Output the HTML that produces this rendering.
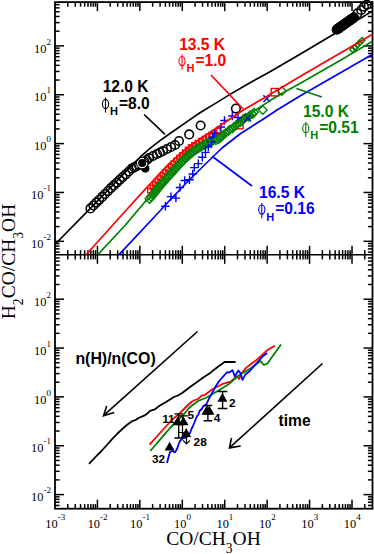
<!DOCTYPE html>
<html><head><meta charset="utf-8"><title>plot</title>
<style>
html,body{margin:0;padding:0;background:#fff;}
body{width:374px;height:554px;overflow:hidden;font-family:"Liberation Sans",sans-serif;}
svg{display:block;}
</style></head><body>
<svg width="374" height="554" viewBox="0 0 374 554">
<rect width="374" height="554" fill="#fff"/>
<g stroke="#000" stroke-width="1.5" fill="none" stroke-linecap="butt">
<rect x="55.0" y="2.1" width="317.5" height="506.59999999999997" stroke-width="1.8"/>
<line x1="55.0" y1="254.8" x2="372.5" y2="254.8"/>
<line x1="67.77" y1="2.1" x2="67.77" y2="6.699999999999999"/>
<line x1="67.77" y1="250.20000000000002" x2="67.77" y2="259.40000000000003"/>
<line x1="67.77" y1="508.7" x2="67.77" y2="504.09999999999997"/>
<line x1="75.24" y1="2.1" x2="75.24" y2="6.699999999999999"/>
<line x1="75.24" y1="250.20000000000002" x2="75.24" y2="259.40000000000003"/>
<line x1="75.24" y1="508.7" x2="75.24" y2="504.09999999999997"/>
<line x1="80.55" y1="2.1" x2="80.55" y2="6.699999999999999"/>
<line x1="80.55" y1="250.20000000000002" x2="80.55" y2="259.40000000000003"/>
<line x1="80.55" y1="508.7" x2="80.55" y2="504.09999999999997"/>
<line x1="84.66" y1="2.1" x2="84.66" y2="6.699999999999999"/>
<line x1="84.66" y1="250.20000000000002" x2="84.66" y2="259.40000000000003"/>
<line x1="84.66" y1="508.7" x2="84.66" y2="504.09999999999997"/>
<line x1="88.02" y1="2.1" x2="88.02" y2="6.699999999999999"/>
<line x1="88.02" y1="250.20000000000002" x2="88.02" y2="259.40000000000003"/>
<line x1="88.02" y1="508.7" x2="88.02" y2="504.09999999999997"/>
<line x1="90.86" y1="2.1" x2="90.86" y2="6.699999999999999"/>
<line x1="90.86" y1="250.20000000000002" x2="90.86" y2="259.40000000000003"/>
<line x1="90.86" y1="508.7" x2="90.86" y2="504.09999999999997"/>
<line x1="93.32" y1="2.1" x2="93.32" y2="6.699999999999999"/>
<line x1="93.32" y1="250.20000000000002" x2="93.32" y2="259.40000000000003"/>
<line x1="93.32" y1="508.7" x2="93.32" y2="504.09999999999997"/>
<line x1="95.49" y1="2.1" x2="95.49" y2="6.699999999999999"/>
<line x1="95.49" y1="250.20000000000002" x2="95.49" y2="259.40000000000003"/>
<line x1="95.49" y1="508.7" x2="95.49" y2="504.09999999999997"/>
<line x1="97.43" y1="2.1" x2="97.43" y2="11.1"/>
<line x1="97.43" y1="245.8" x2="97.43" y2="263.8"/>
<line x1="97.43" y1="508.7" x2="97.43" y2="499.7"/>
<line x1="110.20" y1="2.1" x2="110.20" y2="6.699999999999999"/>
<line x1="110.20" y1="250.20000000000002" x2="110.20" y2="259.40000000000003"/>
<line x1="110.20" y1="508.7" x2="110.20" y2="504.09999999999997"/>
<line x1="117.67" y1="2.1" x2="117.67" y2="6.699999999999999"/>
<line x1="117.67" y1="250.20000000000002" x2="117.67" y2="259.40000000000003"/>
<line x1="117.67" y1="508.7" x2="117.67" y2="504.09999999999997"/>
<line x1="122.98" y1="2.1" x2="122.98" y2="6.699999999999999"/>
<line x1="122.98" y1="250.20000000000002" x2="122.98" y2="259.40000000000003"/>
<line x1="122.98" y1="508.7" x2="122.98" y2="504.09999999999997"/>
<line x1="127.09" y1="2.1" x2="127.09" y2="6.699999999999999"/>
<line x1="127.09" y1="250.20000000000002" x2="127.09" y2="259.40000000000003"/>
<line x1="127.09" y1="508.7" x2="127.09" y2="504.09999999999997"/>
<line x1="130.45" y1="2.1" x2="130.45" y2="6.699999999999999"/>
<line x1="130.45" y1="250.20000000000002" x2="130.45" y2="259.40000000000003"/>
<line x1="130.45" y1="508.7" x2="130.45" y2="504.09999999999997"/>
<line x1="133.29" y1="2.1" x2="133.29" y2="6.699999999999999"/>
<line x1="133.29" y1="250.20000000000002" x2="133.29" y2="259.40000000000003"/>
<line x1="133.29" y1="508.7" x2="133.29" y2="504.09999999999997"/>
<line x1="135.75" y1="2.1" x2="135.75" y2="6.699999999999999"/>
<line x1="135.75" y1="250.20000000000002" x2="135.75" y2="259.40000000000003"/>
<line x1="135.75" y1="508.7" x2="135.75" y2="504.09999999999997"/>
<line x1="137.92" y1="2.1" x2="137.92" y2="6.699999999999999"/>
<line x1="137.92" y1="250.20000000000002" x2="137.92" y2="259.40000000000003"/>
<line x1="137.92" y1="508.7" x2="137.92" y2="504.09999999999997"/>
<line x1="139.86" y1="2.1" x2="139.86" y2="11.1"/>
<line x1="139.86" y1="245.8" x2="139.86" y2="263.8"/>
<line x1="139.86" y1="508.7" x2="139.86" y2="499.7"/>
<line x1="152.63" y1="2.1" x2="152.63" y2="6.699999999999999"/>
<line x1="152.63" y1="250.20000000000002" x2="152.63" y2="259.40000000000003"/>
<line x1="152.63" y1="508.7" x2="152.63" y2="504.09999999999997"/>
<line x1="160.10" y1="2.1" x2="160.10" y2="6.699999999999999"/>
<line x1="160.10" y1="250.20000000000002" x2="160.10" y2="259.40000000000003"/>
<line x1="160.10" y1="508.7" x2="160.10" y2="504.09999999999997"/>
<line x1="165.41" y1="2.1" x2="165.41" y2="6.699999999999999"/>
<line x1="165.41" y1="250.20000000000002" x2="165.41" y2="259.40000000000003"/>
<line x1="165.41" y1="508.7" x2="165.41" y2="504.09999999999997"/>
<line x1="169.52" y1="2.1" x2="169.52" y2="6.699999999999999"/>
<line x1="169.52" y1="250.20000000000002" x2="169.52" y2="259.40000000000003"/>
<line x1="169.52" y1="508.7" x2="169.52" y2="504.09999999999997"/>
<line x1="172.88" y1="2.1" x2="172.88" y2="6.699999999999999"/>
<line x1="172.88" y1="250.20000000000002" x2="172.88" y2="259.40000000000003"/>
<line x1="172.88" y1="508.7" x2="172.88" y2="504.09999999999997"/>
<line x1="175.72" y1="2.1" x2="175.72" y2="6.699999999999999"/>
<line x1="175.72" y1="250.20000000000002" x2="175.72" y2="259.40000000000003"/>
<line x1="175.72" y1="508.7" x2="175.72" y2="504.09999999999997"/>
<line x1="178.18" y1="2.1" x2="178.18" y2="6.699999999999999"/>
<line x1="178.18" y1="250.20000000000002" x2="178.18" y2="259.40000000000003"/>
<line x1="178.18" y1="508.7" x2="178.18" y2="504.09999999999997"/>
<line x1="180.35" y1="2.1" x2="180.35" y2="6.699999999999999"/>
<line x1="180.35" y1="250.20000000000002" x2="180.35" y2="259.40000000000003"/>
<line x1="180.35" y1="508.7" x2="180.35" y2="504.09999999999997"/>
<line x1="182.29" y1="2.1" x2="182.29" y2="11.1"/>
<line x1="182.29" y1="245.8" x2="182.29" y2="263.8"/>
<line x1="182.29" y1="508.7" x2="182.29" y2="499.7"/>
<line x1="195.06" y1="2.1" x2="195.06" y2="6.699999999999999"/>
<line x1="195.06" y1="250.20000000000002" x2="195.06" y2="259.40000000000003"/>
<line x1="195.06" y1="508.7" x2="195.06" y2="504.09999999999997"/>
<line x1="202.53" y1="2.1" x2="202.53" y2="6.699999999999999"/>
<line x1="202.53" y1="250.20000000000002" x2="202.53" y2="259.40000000000003"/>
<line x1="202.53" y1="508.7" x2="202.53" y2="504.09999999999997"/>
<line x1="207.84" y1="2.1" x2="207.84" y2="6.699999999999999"/>
<line x1="207.84" y1="250.20000000000002" x2="207.84" y2="259.40000000000003"/>
<line x1="207.84" y1="508.7" x2="207.84" y2="504.09999999999997"/>
<line x1="211.95" y1="2.1" x2="211.95" y2="6.699999999999999"/>
<line x1="211.95" y1="250.20000000000002" x2="211.95" y2="259.40000000000003"/>
<line x1="211.95" y1="508.7" x2="211.95" y2="504.09999999999997"/>
<line x1="215.31" y1="2.1" x2="215.31" y2="6.699999999999999"/>
<line x1="215.31" y1="250.20000000000002" x2="215.31" y2="259.40000000000003"/>
<line x1="215.31" y1="508.7" x2="215.31" y2="504.09999999999997"/>
<line x1="218.15" y1="2.1" x2="218.15" y2="6.699999999999999"/>
<line x1="218.15" y1="250.20000000000002" x2="218.15" y2="259.40000000000003"/>
<line x1="218.15" y1="508.7" x2="218.15" y2="504.09999999999997"/>
<line x1="220.61" y1="2.1" x2="220.61" y2="6.699999999999999"/>
<line x1="220.61" y1="250.20000000000002" x2="220.61" y2="259.40000000000003"/>
<line x1="220.61" y1="508.7" x2="220.61" y2="504.09999999999997"/>
<line x1="222.78" y1="2.1" x2="222.78" y2="6.699999999999999"/>
<line x1="222.78" y1="250.20000000000002" x2="222.78" y2="259.40000000000003"/>
<line x1="222.78" y1="508.7" x2="222.78" y2="504.09999999999997"/>
<line x1="224.72" y1="2.1" x2="224.72" y2="11.1"/>
<line x1="224.72" y1="245.8" x2="224.72" y2="263.8"/>
<line x1="224.72" y1="508.7" x2="224.72" y2="499.7"/>
<line x1="237.49" y1="2.1" x2="237.49" y2="6.699999999999999"/>
<line x1="237.49" y1="250.20000000000002" x2="237.49" y2="259.40000000000003"/>
<line x1="237.49" y1="508.7" x2="237.49" y2="504.09999999999997"/>
<line x1="244.96" y1="2.1" x2="244.96" y2="6.699999999999999"/>
<line x1="244.96" y1="250.20000000000002" x2="244.96" y2="259.40000000000003"/>
<line x1="244.96" y1="508.7" x2="244.96" y2="504.09999999999997"/>
<line x1="250.27" y1="2.1" x2="250.27" y2="6.699999999999999"/>
<line x1="250.27" y1="250.20000000000002" x2="250.27" y2="259.40000000000003"/>
<line x1="250.27" y1="508.7" x2="250.27" y2="504.09999999999997"/>
<line x1="254.38" y1="2.1" x2="254.38" y2="6.699999999999999"/>
<line x1="254.38" y1="250.20000000000002" x2="254.38" y2="259.40000000000003"/>
<line x1="254.38" y1="508.7" x2="254.38" y2="504.09999999999997"/>
<line x1="257.74" y1="2.1" x2="257.74" y2="6.699999999999999"/>
<line x1="257.74" y1="250.20000000000002" x2="257.74" y2="259.40000000000003"/>
<line x1="257.74" y1="508.7" x2="257.74" y2="504.09999999999997"/>
<line x1="260.58" y1="2.1" x2="260.58" y2="6.699999999999999"/>
<line x1="260.58" y1="250.20000000000002" x2="260.58" y2="259.40000000000003"/>
<line x1="260.58" y1="508.7" x2="260.58" y2="504.09999999999997"/>
<line x1="263.04" y1="2.1" x2="263.04" y2="6.699999999999999"/>
<line x1="263.04" y1="250.20000000000002" x2="263.04" y2="259.40000000000003"/>
<line x1="263.04" y1="508.7" x2="263.04" y2="504.09999999999997"/>
<line x1="265.21" y1="2.1" x2="265.21" y2="6.699999999999999"/>
<line x1="265.21" y1="250.20000000000002" x2="265.21" y2="259.40000000000003"/>
<line x1="265.21" y1="508.7" x2="265.21" y2="504.09999999999997"/>
<line x1="267.15" y1="2.1" x2="267.15" y2="11.1"/>
<line x1="267.15" y1="245.8" x2="267.15" y2="263.8"/>
<line x1="267.15" y1="508.7" x2="267.15" y2="499.7"/>
<line x1="279.92" y1="2.1" x2="279.92" y2="6.699999999999999"/>
<line x1="279.92" y1="250.20000000000002" x2="279.92" y2="259.40000000000003"/>
<line x1="279.92" y1="508.7" x2="279.92" y2="504.09999999999997"/>
<line x1="287.39" y1="2.1" x2="287.39" y2="6.699999999999999"/>
<line x1="287.39" y1="250.20000000000002" x2="287.39" y2="259.40000000000003"/>
<line x1="287.39" y1="508.7" x2="287.39" y2="504.09999999999997"/>
<line x1="292.70" y1="2.1" x2="292.70" y2="6.699999999999999"/>
<line x1="292.70" y1="250.20000000000002" x2="292.70" y2="259.40000000000003"/>
<line x1="292.70" y1="508.7" x2="292.70" y2="504.09999999999997"/>
<line x1="296.81" y1="2.1" x2="296.81" y2="6.699999999999999"/>
<line x1="296.81" y1="250.20000000000002" x2="296.81" y2="259.40000000000003"/>
<line x1="296.81" y1="508.7" x2="296.81" y2="504.09999999999997"/>
<line x1="300.17" y1="2.1" x2="300.17" y2="6.699999999999999"/>
<line x1="300.17" y1="250.20000000000002" x2="300.17" y2="259.40000000000003"/>
<line x1="300.17" y1="508.7" x2="300.17" y2="504.09999999999997"/>
<line x1="303.01" y1="2.1" x2="303.01" y2="6.699999999999999"/>
<line x1="303.01" y1="250.20000000000002" x2="303.01" y2="259.40000000000003"/>
<line x1="303.01" y1="508.7" x2="303.01" y2="504.09999999999997"/>
<line x1="305.47" y1="2.1" x2="305.47" y2="6.699999999999999"/>
<line x1="305.47" y1="250.20000000000002" x2="305.47" y2="259.40000000000003"/>
<line x1="305.47" y1="508.7" x2="305.47" y2="504.09999999999997"/>
<line x1="307.64" y1="2.1" x2="307.64" y2="6.699999999999999"/>
<line x1="307.64" y1="250.20000000000002" x2="307.64" y2="259.40000000000003"/>
<line x1="307.64" y1="508.7" x2="307.64" y2="504.09999999999997"/>
<line x1="309.58" y1="2.1" x2="309.58" y2="11.1"/>
<line x1="309.58" y1="245.8" x2="309.58" y2="263.8"/>
<line x1="309.58" y1="508.7" x2="309.58" y2="499.7"/>
<line x1="322.35" y1="2.1" x2="322.35" y2="6.699999999999999"/>
<line x1="322.35" y1="250.20000000000002" x2="322.35" y2="259.40000000000003"/>
<line x1="322.35" y1="508.7" x2="322.35" y2="504.09999999999997"/>
<line x1="329.82" y1="2.1" x2="329.82" y2="6.699999999999999"/>
<line x1="329.82" y1="250.20000000000002" x2="329.82" y2="259.40000000000003"/>
<line x1="329.82" y1="508.7" x2="329.82" y2="504.09999999999997"/>
<line x1="335.13" y1="2.1" x2="335.13" y2="6.699999999999999"/>
<line x1="335.13" y1="250.20000000000002" x2="335.13" y2="259.40000000000003"/>
<line x1="335.13" y1="508.7" x2="335.13" y2="504.09999999999997"/>
<line x1="339.24" y1="2.1" x2="339.24" y2="6.699999999999999"/>
<line x1="339.24" y1="250.20000000000002" x2="339.24" y2="259.40000000000003"/>
<line x1="339.24" y1="508.7" x2="339.24" y2="504.09999999999997"/>
<line x1="342.60" y1="2.1" x2="342.60" y2="6.699999999999999"/>
<line x1="342.60" y1="250.20000000000002" x2="342.60" y2="259.40000000000003"/>
<line x1="342.60" y1="508.7" x2="342.60" y2="504.09999999999997"/>
<line x1="345.44" y1="2.1" x2="345.44" y2="6.699999999999999"/>
<line x1="345.44" y1="250.20000000000002" x2="345.44" y2="259.40000000000003"/>
<line x1="345.44" y1="508.7" x2="345.44" y2="504.09999999999997"/>
<line x1="347.90" y1="2.1" x2="347.90" y2="6.699999999999999"/>
<line x1="347.90" y1="250.20000000000002" x2="347.90" y2="259.40000000000003"/>
<line x1="347.90" y1="508.7" x2="347.90" y2="504.09999999999997"/>
<line x1="350.07" y1="2.1" x2="350.07" y2="6.699999999999999"/>
<line x1="350.07" y1="250.20000000000002" x2="350.07" y2="259.40000000000003"/>
<line x1="350.07" y1="508.7" x2="350.07" y2="504.09999999999997"/>
<line x1="352.01" y1="2.1" x2="352.01" y2="11.1"/>
<line x1="352.01" y1="245.8" x2="352.01" y2="263.8"/>
<line x1="352.01" y1="508.7" x2="352.01" y2="499.7"/>
<line x1="364.78" y1="2.1" x2="364.78" y2="6.699999999999999"/>
<line x1="364.78" y1="250.20000000000002" x2="364.78" y2="259.40000000000003"/>
<line x1="364.78" y1="508.7" x2="364.78" y2="504.09999999999997"/>
<line x1="55.0" y1="252.14" x2="59.6" y2="252.14"/>
<line x1="372.5" y1="252.14" x2="367.9" y2="252.14"/>
<line x1="55.0" y1="248.87" x2="59.6" y2="248.87"/>
<line x1="372.5" y1="248.87" x2="367.9" y2="248.87"/>
<line x1="55.0" y1="246.03" x2="59.6" y2="246.03"/>
<line x1="372.5" y1="246.03" x2="367.9" y2="246.03"/>
<line x1="55.0" y1="243.54" x2="59.6" y2="243.54"/>
<line x1="372.5" y1="243.54" x2="367.9" y2="243.54"/>
<line x1="55.0" y1="241.30" x2="64.0" y2="241.30"/>
<line x1="372.5" y1="241.30" x2="363.5" y2="241.30"/>
<line x1="55.0" y1="226.59" x2="59.6" y2="226.59"/>
<line x1="372.5" y1="226.59" x2="367.9" y2="226.59"/>
<line x1="55.0" y1="217.99" x2="59.6" y2="217.99"/>
<line x1="372.5" y1="217.99" x2="367.9" y2="217.99"/>
<line x1="55.0" y1="211.89" x2="59.6" y2="211.89"/>
<line x1="372.5" y1="211.89" x2="367.9" y2="211.89"/>
<line x1="55.0" y1="207.16" x2="59.6" y2="207.16"/>
<line x1="372.5" y1="207.16" x2="367.9" y2="207.16"/>
<line x1="55.0" y1="203.29" x2="59.6" y2="203.29"/>
<line x1="372.5" y1="203.29" x2="367.9" y2="203.29"/>
<line x1="55.0" y1="200.02" x2="59.6" y2="200.02"/>
<line x1="372.5" y1="200.02" x2="367.9" y2="200.02"/>
<line x1="55.0" y1="197.18" x2="59.6" y2="197.18"/>
<line x1="372.5" y1="197.18" x2="367.9" y2="197.18"/>
<line x1="55.0" y1="194.69" x2="59.6" y2="194.69"/>
<line x1="372.5" y1="194.69" x2="367.9" y2="194.69"/>
<line x1="55.0" y1="192.45" x2="64.0" y2="192.45"/>
<line x1="372.5" y1="192.45" x2="363.5" y2="192.45"/>
<line x1="55.0" y1="177.74" x2="59.6" y2="177.74"/>
<line x1="372.5" y1="177.74" x2="367.9" y2="177.74"/>
<line x1="55.0" y1="169.14" x2="59.6" y2="169.14"/>
<line x1="372.5" y1="169.14" x2="367.9" y2="169.14"/>
<line x1="55.0" y1="163.04" x2="59.6" y2="163.04"/>
<line x1="372.5" y1="163.04" x2="367.9" y2="163.04"/>
<line x1="55.0" y1="158.31" x2="59.6" y2="158.31"/>
<line x1="372.5" y1="158.31" x2="367.9" y2="158.31"/>
<line x1="55.0" y1="154.44" x2="59.6" y2="154.44"/>
<line x1="372.5" y1="154.44" x2="367.9" y2="154.44"/>
<line x1="55.0" y1="151.17" x2="59.6" y2="151.17"/>
<line x1="372.5" y1="151.17" x2="367.9" y2="151.17"/>
<line x1="55.0" y1="148.33" x2="59.6" y2="148.33"/>
<line x1="372.5" y1="148.33" x2="367.9" y2="148.33"/>
<line x1="55.0" y1="145.84" x2="59.6" y2="145.84"/>
<line x1="372.5" y1="145.84" x2="367.9" y2="145.84"/>
<line x1="55.0" y1="143.60" x2="64.0" y2="143.60"/>
<line x1="372.5" y1="143.60" x2="363.5" y2="143.60"/>
<line x1="55.0" y1="128.89" x2="59.6" y2="128.89"/>
<line x1="372.5" y1="128.89" x2="367.9" y2="128.89"/>
<line x1="55.0" y1="120.29" x2="59.6" y2="120.29"/>
<line x1="372.5" y1="120.29" x2="367.9" y2="120.29"/>
<line x1="55.0" y1="114.19" x2="59.6" y2="114.19"/>
<line x1="372.5" y1="114.19" x2="367.9" y2="114.19"/>
<line x1="55.0" y1="109.46" x2="59.6" y2="109.46"/>
<line x1="372.5" y1="109.46" x2="367.9" y2="109.46"/>
<line x1="55.0" y1="105.59" x2="59.6" y2="105.59"/>
<line x1="372.5" y1="105.59" x2="367.9" y2="105.59"/>
<line x1="55.0" y1="102.32" x2="59.6" y2="102.32"/>
<line x1="372.5" y1="102.32" x2="367.9" y2="102.32"/>
<line x1="55.0" y1="99.48" x2="59.6" y2="99.48"/>
<line x1="372.5" y1="99.48" x2="367.9" y2="99.48"/>
<line x1="55.0" y1="96.99" x2="59.6" y2="96.99"/>
<line x1="372.5" y1="96.99" x2="367.9" y2="96.99"/>
<line x1="55.0" y1="94.75" x2="64.0" y2="94.75"/>
<line x1="372.5" y1="94.75" x2="363.5" y2="94.75"/>
<line x1="55.0" y1="80.04" x2="59.6" y2="80.04"/>
<line x1="372.5" y1="80.04" x2="367.9" y2="80.04"/>
<line x1="55.0" y1="71.44" x2="59.6" y2="71.44"/>
<line x1="372.5" y1="71.44" x2="367.9" y2="71.44"/>
<line x1="55.0" y1="65.34" x2="59.6" y2="65.34"/>
<line x1="372.5" y1="65.34" x2="367.9" y2="65.34"/>
<line x1="55.0" y1="60.61" x2="59.6" y2="60.61"/>
<line x1="372.5" y1="60.61" x2="367.9" y2="60.61"/>
<line x1="55.0" y1="56.74" x2="59.6" y2="56.74"/>
<line x1="372.5" y1="56.74" x2="367.9" y2="56.74"/>
<line x1="55.0" y1="53.47" x2="59.6" y2="53.47"/>
<line x1="372.5" y1="53.47" x2="367.9" y2="53.47"/>
<line x1="55.0" y1="50.63" x2="59.6" y2="50.63"/>
<line x1="372.5" y1="50.63" x2="367.9" y2="50.63"/>
<line x1="55.0" y1="48.14" x2="59.6" y2="48.14"/>
<line x1="372.5" y1="48.14" x2="367.9" y2="48.14"/>
<line x1="55.0" y1="45.90" x2="64.0" y2="45.90"/>
<line x1="372.5" y1="45.90" x2="363.5" y2="45.90"/>
<line x1="55.0" y1="31.19" x2="59.6" y2="31.19"/>
<line x1="372.5" y1="31.19" x2="367.9" y2="31.19"/>
<line x1="55.0" y1="22.59" x2="59.6" y2="22.59"/>
<line x1="372.5" y1="22.59" x2="367.9" y2="22.59"/>
<line x1="55.0" y1="16.49" x2="59.6" y2="16.49"/>
<line x1="372.5" y1="16.49" x2="367.9" y2="16.49"/>
<line x1="55.0" y1="11.76" x2="59.6" y2="11.76"/>
<line x1="372.5" y1="11.76" x2="367.9" y2="11.76"/>
<line x1="55.0" y1="7.89" x2="59.6" y2="7.89"/>
<line x1="372.5" y1="7.89" x2="367.9" y2="7.89"/>
<line x1="55.0" y1="4.62" x2="59.6" y2="4.62"/>
<line x1="372.5" y1="4.62" x2="367.9" y2="4.62"/>
<line x1="55.0" y1="505.44" x2="59.6" y2="505.44"/>
<line x1="372.5" y1="505.44" x2="367.9" y2="505.44"/>
<line x1="55.0" y1="502.17" x2="59.6" y2="502.17"/>
<line x1="372.5" y1="502.17" x2="367.9" y2="502.17"/>
<line x1="55.0" y1="499.33" x2="59.6" y2="499.33"/>
<line x1="372.5" y1="499.33" x2="367.9" y2="499.33"/>
<line x1="55.0" y1="496.84" x2="59.6" y2="496.84"/>
<line x1="372.5" y1="496.84" x2="367.9" y2="496.84"/>
<line x1="55.0" y1="494.60" x2="64.0" y2="494.60"/>
<line x1="372.5" y1="494.60" x2="363.5" y2="494.60"/>
<line x1="55.0" y1="479.89" x2="59.6" y2="479.89"/>
<line x1="372.5" y1="479.89" x2="367.9" y2="479.89"/>
<line x1="55.0" y1="471.29" x2="59.6" y2="471.29"/>
<line x1="372.5" y1="471.29" x2="367.9" y2="471.29"/>
<line x1="55.0" y1="465.19" x2="59.6" y2="465.19"/>
<line x1="372.5" y1="465.19" x2="367.9" y2="465.19"/>
<line x1="55.0" y1="460.46" x2="59.6" y2="460.46"/>
<line x1="372.5" y1="460.46" x2="367.9" y2="460.46"/>
<line x1="55.0" y1="456.59" x2="59.6" y2="456.59"/>
<line x1="372.5" y1="456.59" x2="367.9" y2="456.59"/>
<line x1="55.0" y1="453.32" x2="59.6" y2="453.32"/>
<line x1="372.5" y1="453.32" x2="367.9" y2="453.32"/>
<line x1="55.0" y1="450.48" x2="59.6" y2="450.48"/>
<line x1="372.5" y1="450.48" x2="367.9" y2="450.48"/>
<line x1="55.0" y1="447.99" x2="59.6" y2="447.99"/>
<line x1="372.5" y1="447.99" x2="367.9" y2="447.99"/>
<line x1="55.0" y1="445.75" x2="64.0" y2="445.75"/>
<line x1="372.5" y1="445.75" x2="363.5" y2="445.75"/>
<line x1="55.0" y1="431.04" x2="59.6" y2="431.04"/>
<line x1="372.5" y1="431.04" x2="367.9" y2="431.04"/>
<line x1="55.0" y1="422.44" x2="59.6" y2="422.44"/>
<line x1="372.5" y1="422.44" x2="367.9" y2="422.44"/>
<line x1="55.0" y1="416.34" x2="59.6" y2="416.34"/>
<line x1="372.5" y1="416.34" x2="367.9" y2="416.34"/>
<line x1="55.0" y1="411.61" x2="59.6" y2="411.61"/>
<line x1="372.5" y1="411.61" x2="367.9" y2="411.61"/>
<line x1="55.0" y1="407.74" x2="59.6" y2="407.74"/>
<line x1="372.5" y1="407.74" x2="367.9" y2="407.74"/>
<line x1="55.0" y1="404.47" x2="59.6" y2="404.47"/>
<line x1="372.5" y1="404.47" x2="367.9" y2="404.47"/>
<line x1="55.0" y1="401.63" x2="59.6" y2="401.63"/>
<line x1="372.5" y1="401.63" x2="367.9" y2="401.63"/>
<line x1="55.0" y1="399.14" x2="59.6" y2="399.14"/>
<line x1="372.5" y1="399.14" x2="367.9" y2="399.14"/>
<line x1="55.0" y1="396.90" x2="64.0" y2="396.90"/>
<line x1="372.5" y1="396.90" x2="363.5" y2="396.90"/>
<line x1="55.0" y1="382.19" x2="59.6" y2="382.19"/>
<line x1="372.5" y1="382.19" x2="367.9" y2="382.19"/>
<line x1="55.0" y1="373.59" x2="59.6" y2="373.59"/>
<line x1="372.5" y1="373.59" x2="367.9" y2="373.59"/>
<line x1="55.0" y1="367.49" x2="59.6" y2="367.49"/>
<line x1="372.5" y1="367.49" x2="367.9" y2="367.49"/>
<line x1="55.0" y1="362.76" x2="59.6" y2="362.76"/>
<line x1="372.5" y1="362.76" x2="367.9" y2="362.76"/>
<line x1="55.0" y1="358.89" x2="59.6" y2="358.89"/>
<line x1="372.5" y1="358.89" x2="367.9" y2="358.89"/>
<line x1="55.0" y1="355.62" x2="59.6" y2="355.62"/>
<line x1="372.5" y1="355.62" x2="367.9" y2="355.62"/>
<line x1="55.0" y1="352.78" x2="59.6" y2="352.78"/>
<line x1="372.5" y1="352.78" x2="367.9" y2="352.78"/>
<line x1="55.0" y1="350.29" x2="59.6" y2="350.29"/>
<line x1="372.5" y1="350.29" x2="367.9" y2="350.29"/>
<line x1="55.0" y1="348.05" x2="64.0" y2="348.05"/>
<line x1="372.5" y1="348.05" x2="363.5" y2="348.05"/>
<line x1="55.0" y1="333.34" x2="59.6" y2="333.34"/>
<line x1="372.5" y1="333.34" x2="367.9" y2="333.34"/>
<line x1="55.0" y1="324.74" x2="59.6" y2="324.74"/>
<line x1="372.5" y1="324.74" x2="367.9" y2="324.74"/>
<line x1="55.0" y1="318.64" x2="59.6" y2="318.64"/>
<line x1="372.5" y1="318.64" x2="367.9" y2="318.64"/>
<line x1="55.0" y1="313.91" x2="59.6" y2="313.91"/>
<line x1="372.5" y1="313.91" x2="367.9" y2="313.91"/>
<line x1="55.0" y1="310.04" x2="59.6" y2="310.04"/>
<line x1="372.5" y1="310.04" x2="367.9" y2="310.04"/>
<line x1="55.0" y1="306.77" x2="59.6" y2="306.77"/>
<line x1="372.5" y1="306.77" x2="367.9" y2="306.77"/>
<line x1="55.0" y1="303.93" x2="59.6" y2="303.93"/>
<line x1="372.5" y1="303.93" x2="367.9" y2="303.93"/>
<line x1="55.0" y1="301.44" x2="59.6" y2="301.44"/>
<line x1="372.5" y1="301.44" x2="367.9" y2="301.44"/>
<line x1="55.0" y1="299.20" x2="64.0" y2="299.20"/>
<line x1="372.5" y1="299.20" x2="363.5" y2="299.20"/>
<line x1="55.0" y1="284.49" x2="59.6" y2="284.49"/>
<line x1="372.5" y1="284.49" x2="367.9" y2="284.49"/>
<line x1="55.0" y1="275.89" x2="59.6" y2="275.89"/>
<line x1="372.5" y1="275.89" x2="367.9" y2="275.89"/>
<line x1="55.0" y1="269.79" x2="59.6" y2="269.79"/>
<line x1="372.5" y1="269.79" x2="367.9" y2="269.79"/>
<line x1="55.0" y1="265.06" x2="59.6" y2="265.06"/>
<line x1="372.5" y1="265.06" x2="367.9" y2="265.06"/>
<line x1="55.0" y1="261.19" x2="59.6" y2="261.19"/>
<line x1="372.5" y1="261.19" x2="367.9" y2="261.19"/>
<line x1="55.0" y1="257.92" x2="59.6" y2="257.92"/>
<line x1="372.5" y1="257.92" x2="367.9" y2="257.92"/>
</g>
<text x="34.00" y="52.60" font-family="Liberation Serif, serif" font-size="12.4" fill="#000">10<tspan font-size="9.0" dy="-8.0">2</tspan></text>
<text x="34.00" y="101.45" font-family="Liberation Serif, serif" font-size="12.4" fill="#000">10<tspan font-size="9.0" dy="-8.0">1</tspan></text>
<text x="34.00" y="150.30" font-family="Liberation Serif, serif" font-size="12.4" fill="#000">10<tspan font-size="9.0" dy="-8.0">0</tspan></text>
<text x="31.00" y="199.15" font-family="Liberation Serif, serif" font-size="12.4" fill="#000">10<tspan font-size="9.0" dy="-8.0">-1</tspan></text>
<text x="31.00" y="248.00" font-family="Liberation Serif, serif" font-size="12.4" fill="#000">10<tspan font-size="9.0" dy="-8.0">-2</tspan></text>
<text x="34.00" y="305.90" font-family="Liberation Serif, serif" font-size="12.4" fill="#000">10<tspan font-size="9.0" dy="-8.0">2</tspan></text>
<text x="34.00" y="354.75" font-family="Liberation Serif, serif" font-size="12.4" fill="#000">10<tspan font-size="9.0" dy="-8.0">1</tspan></text>
<text x="34.00" y="403.60" font-family="Liberation Serif, serif" font-size="12.4" fill="#000">10<tspan font-size="9.0" dy="-8.0">0</tspan></text>
<text x="31.00" y="452.45" font-family="Liberation Serif, serif" font-size="12.4" fill="#000">10<tspan font-size="9.0" dy="-8.0">-1</tspan></text>
<text x="31.00" y="501.30" font-family="Liberation Serif, serif" font-size="12.4" fill="#000">10<tspan font-size="9.0" dy="-8.0">-2</tspan></text>
<text x="45.25" y="527.60" font-family="Liberation Serif, serif" font-size="12.4" fill="#000">10<tspan font-size="9.0" dy="-8.0">-3</tspan></text>
<text x="87.68" y="527.60" font-family="Liberation Serif, serif" font-size="12.4" fill="#000">10<tspan font-size="9.0" dy="-8.0">-2</tspan></text>
<text x="130.11" y="527.60" font-family="Liberation Serif, serif" font-size="12.4" fill="#000">10<tspan font-size="9.0" dy="-8.0">-1</tspan></text>
<text x="174.04" y="527.60" font-family="Liberation Serif, serif" font-size="12.4" fill="#000">10<tspan font-size="9.0" dy="-8.0">0</tspan></text>
<text x="216.47" y="527.60" font-family="Liberation Serif, serif" font-size="12.4" fill="#000">10<tspan font-size="9.0" dy="-8.0">1</tspan></text>
<text x="258.90" y="527.60" font-family="Liberation Serif, serif" font-size="12.4" fill="#000">10<tspan font-size="9.0" dy="-8.0">2</tspan></text>
<text x="301.33" y="527.60" font-family="Liberation Serif, serif" font-size="12.4" fill="#000">10<tspan font-size="9.0" dy="-8.0">3</tspan></text>
<text x="343.76" y="527.60" font-family="Liberation Serif, serif" font-size="12.4" fill="#000">10<tspan font-size="9.0" dy="-8.0">4</tspan></text>
<text x="213.5" y="545.3" text-anchor="middle" font-family="Liberation Serif, serif" font-size="19.5" fill="#000">CO/CH<tspan font-size="13.6" dy="8">3</tspan><tspan dy="-8">OH</tspan></text>
<text transform="translate(14.6,261.5) rotate(-90)" text-anchor="middle" font-family="Liberation Serif, serif" font-size="19.5" fill="#000">H<tspan font-size="13.6" dy="8">2</tspan><tspan dy="-8">CO/CH</tspan><tspan font-size="13.6" dy="8">3</tspan><tspan dy="-8">OH</tspan></text>
<clipPath id="ct"><rect x="55.0" y="2.1" width="317.5" height="252.70000000000002"/></clipPath>
<g clip-path="url(#ct)">
</g>
<g>
<circle cx="145.3" cy="168.6" r="4.1" fill="#000"/>
<circle cx="90.5" cy="208.4" r="4.3" fill="none" stroke="#000" stroke-width="1.6"/>
<circle cx="93.4" cy="205.5" r="4.3" fill="none" stroke="#000" stroke-width="1.6"/>
<circle cx="96.3" cy="202.6" r="4.3" fill="none" stroke="#000" stroke-width="1.6"/>
<circle cx="99.2" cy="199.8" r="4.3" fill="none" stroke="#000" stroke-width="1.6"/>
<circle cx="102.1" cy="196.9" r="4.3" fill="none" stroke="#000" stroke-width="1.6"/>
<circle cx="105.0" cy="194.0" r="4.3" fill="none" stroke="#000" stroke-width="1.6"/>
<circle cx="107.9" cy="191.1" r="4.3" fill="none" stroke="#000" stroke-width="1.6"/>
<circle cx="110.8" cy="188.2" r="4.3" fill="none" stroke="#000" stroke-width="1.6"/>
<circle cx="113.8" cy="185.4" r="4.3" fill="none" stroke="#000" stroke-width="1.6"/>
<circle cx="116.8" cy="182.6" r="4.3" fill="none" stroke="#000" stroke-width="1.6"/>
<circle cx="119.7" cy="179.8" r="4.3" fill="none" stroke="#000" stroke-width="1.6"/>
<circle cx="122.7" cy="177.1" r="4.3" fill="none" stroke="#000" stroke-width="1.6"/>
<circle cx="125.7" cy="174.3" r="4.3" fill="none" stroke="#000" stroke-width="1.6"/>
<circle cx="128.7" cy="171.5" r="4.3" fill="none" stroke="#000" stroke-width="1.6"/>
<circle cx="131.7" cy="168.7" r="4.3" fill="none" stroke="#000" stroke-width="1.6"/>
<circle cx="134.2" cy="167.3" r="4.3" fill="none" stroke="#000" stroke-width="1.6"/>
<circle cx="136.6" cy="166.2" r="4.3" fill="none" stroke="#000" stroke-width="1.6"/>
<circle cx="139.0" cy="165.0" r="4.3" fill="none" stroke="#000" stroke-width="1.6"/>
<circle cx="144.5" cy="161.5" r="4.3" fill="none" stroke="#000" stroke-width="1.6"/>
<circle cx="146.8" cy="160.0" r="4.3" fill="none" stroke="#000" stroke-width="1.6"/>
<circle cx="142.2" cy="163" r="5.8" fill="#fff" stroke="#000" stroke-width="1.1"/>
<circle cx="142.2" cy="163" r="4.1" fill="#000"/>
<circle cx="149.0" cy="158.0" r="4.3" fill="none" stroke="#000" stroke-width="1.6"/>
<circle cx="153.0" cy="156.0" r="4.3" fill="none" stroke="#000" stroke-width="1.6"/>
<circle cx="157.0" cy="154.0" r="4.3" fill="none" stroke="#000" stroke-width="1.6"/>
<circle cx="160.0" cy="152.5" r="4.3" fill="none" stroke="#000" stroke-width="1.6"/>
<circle cx="163.0" cy="151.0" r="4.3" fill="none" stroke="#000" stroke-width="1.6"/>
<circle cx="167.0" cy="149.0" r="4.3" fill="none" stroke="#000" stroke-width="1.6"/>
<circle cx="171.0" cy="147.0" r="4.3" fill="none" stroke="#000" stroke-width="1.6"/>
<circle cx="175.0" cy="145.0" r="4.3" fill="none" stroke="#000" stroke-width="1.6"/>
<circle cx="179.0" cy="141.0" r="4.3" fill="none" stroke="#000" stroke-width="1.6"/>
<circle cx="189.2" cy="134.4" r="4.3" fill="none" stroke="#000" stroke-width="1.6"/>
<circle cx="200.6" cy="125.5" r="4.3" fill="none" stroke="#000" stroke-width="1.6"/>
<circle cx="235.9" cy="108.6" r="4.3" fill="none" stroke="#000" stroke-width="1.6"/>
<circle cx="336.7" cy="29.7" r="4.3" fill="none" stroke="#000" stroke-width="1.6"/>
<circle cx="337.3" cy="29.2" r="4.3" fill="none" stroke="#000" stroke-width="1.6"/>
<circle cx="338.0" cy="28.8" r="4.3" fill="none" stroke="#000" stroke-width="1.6"/>
<circle cx="338.6" cy="28.3" r="4.3" fill="none" stroke="#000" stroke-width="1.6"/>
<circle cx="339.3" cy="27.9" r="4.3" fill="none" stroke="#000" stroke-width="1.6"/>
<circle cx="339.9" cy="27.4" r="4.3" fill="none" stroke="#000" stroke-width="1.6"/>
<circle cx="340.5" cy="27.0" r="4.3" fill="none" stroke="#000" stroke-width="1.6"/>
<circle cx="341.2" cy="26.5" r="4.3" fill="none" stroke="#000" stroke-width="1.6"/>
<circle cx="341.8" cy="26.1" r="4.3" fill="none" stroke="#000" stroke-width="1.6"/>
<circle cx="342.5" cy="25.6" r="4.3" fill="none" stroke="#000" stroke-width="1.6"/>
<circle cx="343.1" cy="25.1" r="4.3" fill="none" stroke="#000" stroke-width="1.6"/>
<circle cx="343.7" cy="24.7" r="4.3" fill="none" stroke="#000" stroke-width="1.6"/>
<circle cx="344.4" cy="24.2" r="4.3" fill="none" stroke="#000" stroke-width="1.6"/>
<circle cx="345.0" cy="23.8" r="4.3" fill="none" stroke="#000" stroke-width="1.6"/>
<circle cx="345.7" cy="23.3" r="4.3" fill="none" stroke="#000" stroke-width="1.6"/>
<circle cx="346.3" cy="22.9" r="4.3" fill="none" stroke="#000" stroke-width="1.6"/>
<circle cx="347.0" cy="22.4" r="4.3" fill="none" stroke="#000" stroke-width="1.6"/>
<circle cx="347.6" cy="22.0" r="4.3" fill="none" stroke="#000" stroke-width="1.6"/>
<circle cx="348.2" cy="21.5" r="4.3" fill="none" stroke="#000" stroke-width="1.6"/>
<circle cx="348.9" cy="21.0" r="4.3" fill="none" stroke="#000" stroke-width="1.6"/>
<circle cx="349.5" cy="20.6" r="4.3" fill="none" stroke="#000" stroke-width="1.6"/>
<circle cx="350.2" cy="20.1" r="4.3" fill="none" stroke="#000" stroke-width="1.6"/>
<circle cx="350.8" cy="19.7" r="4.3" fill="none" stroke="#000" stroke-width="1.6"/>
<circle cx="351.4" cy="19.2" r="4.3" fill="none" stroke="#000" stroke-width="1.6"/>
<circle cx="352.1" cy="18.8" r="4.3" fill="none" stroke="#000" stroke-width="1.6"/>
<circle cx="352.7" cy="18.3" r="4.3" fill="none" stroke="#000" stroke-width="1.6"/>
<circle cx="353.4" cy="17.9" r="4.3" fill="none" stroke="#000" stroke-width="1.6"/>
<circle cx="354.0" cy="17.4" r="4.3" fill="none" stroke="#000" stroke-width="1.6"/>
<circle cx="357.4" cy="13.4" r="4.3" fill="none" stroke="#000" stroke-width="1.6"/>
<circle cx="361.2" cy="10.0" r="4.3" fill="none" stroke="#000" stroke-width="1.6"/>
<circle cx="364.0" cy="6.7" r="4.3" fill="none" stroke="#000" stroke-width="1.6"/>
<circle cx="366.8" cy="4.7" r="4.3" fill="none" stroke="#000" stroke-width="1.6"/>
<rect x="147.7" y="188.2" width="4.6" height="4.6" fill="none" stroke="#ff0000" stroke-width="1.4"/>
<rect x="150.2" y="185.1" width="4.6" height="4.6" fill="none" stroke="#ff0000" stroke-width="1.4"/>
<rect x="152.7" y="182.0" width="4.6" height="4.6" fill="none" stroke="#ff0000" stroke-width="1.4"/>
<rect x="155.3" y="179.0" width="4.6" height="4.6" fill="none" stroke="#ff0000" stroke-width="1.4"/>
<rect x="157.8" y="175.9" width="4.6" height="4.6" fill="none" stroke="#ff0000" stroke-width="1.4"/>
<rect x="160.4" y="172.9" width="4.6" height="4.6" fill="none" stroke="#ff0000" stroke-width="1.4"/>
<rect x="163.0" y="169.9" width="4.6" height="4.6" fill="none" stroke="#ff0000" stroke-width="1.4"/>
<rect x="165.6" y="166.9" width="4.6" height="4.6" fill="none" stroke="#ff0000" stroke-width="1.4"/>
<rect x="168.4" y="164.0" width="4.6" height="4.6" fill="none" stroke="#ff0000" stroke-width="1.4"/>
<rect x="171.1" y="161.1" width="4.6" height="4.6" fill="none" stroke="#ff0000" stroke-width="1.4"/>
<rect x="173.9" y="158.3" width="4.6" height="4.6" fill="none" stroke="#ff0000" stroke-width="1.4"/>
<rect x="176.8" y="155.5" width="4.6" height="4.6" fill="none" stroke="#ff0000" stroke-width="1.4"/>
<rect x="179.6" y="152.8" width="4.6" height="4.6" fill="none" stroke="#ff0000" stroke-width="1.4"/>
<rect x="182.5" y="150.0" width="4.6" height="4.6" fill="none" stroke="#ff0000" stroke-width="1.4"/>
<rect x="185.4" y="147.3" width="4.6" height="4.6" fill="none" stroke="#ff0000" stroke-width="1.4"/>
<rect x="188.5" y="144.8" width="4.6" height="4.6" fill="none" stroke="#ff0000" stroke-width="1.4"/>
<rect x="191.8" y="142.6" width="4.6" height="4.6" fill="none" stroke="#ff0000" stroke-width="1.4"/>
<rect x="195.2" y="140.5" width="4.6" height="4.6" fill="none" stroke="#ff0000" stroke-width="1.4"/>
<rect x="198.6" y="138.4" width="4.6" height="4.6" fill="none" stroke="#ff0000" stroke-width="1.4"/>
<rect x="202.0" y="136.4" width="4.6" height="4.6" fill="none" stroke="#ff0000" stroke-width="1.4"/>
<rect x="205.4" y="134.4" width="4.6" height="4.6" fill="none" stroke="#ff0000" stroke-width="1.4"/>
<rect x="208.9" y="132.4" width="4.6" height="4.6" fill="none" stroke="#ff0000" stroke-width="1.4"/>
<rect x="212.3" y="130.3" width="4.6" height="4.6" fill="none" stroke="#ff0000" stroke-width="1.4"/>
<rect x="215.7" y="128.3" width="4.6" height="4.6" fill="none" stroke="#ff0000" stroke-width="1.4"/>
<rect x="235.6" y="121.4" width="7.4" height="7.4" fill="none" stroke="#ff0000" stroke-width="1.4"/>
<rect x="271.2" y="88.5" width="7.4" height="7.4" fill="none" stroke="#ff0000" stroke-width="1.4"/>
<path d="M145.1,198.8 L149.6,194.3 L154.1,198.8 L149.6,203.3 Z" fill="none" stroke="#008000" stroke-width="1.4"/>
<path d="M146.7,196.8 L151.2,192.3 L155.7,196.8 L151.2,201.3 Z" fill="none" stroke="#008000" stroke-width="1.4"/>
<path d="M148.2,194.9 L152.7,190.4 L157.2,194.9 L152.7,199.4 Z" fill="none" stroke="#008000" stroke-width="1.4"/>
<path d="M149.8,192.9 L154.3,188.4 L158.8,192.9 L154.3,197.4 Z" fill="none" stroke="#008000" stroke-width="1.4"/>
<path d="M151.3,191.0 L155.8,186.5 L160.3,191.0 L155.8,195.5 Z" fill="none" stroke="#008000" stroke-width="1.4"/>
<path d="M152.9,189.0 L157.4,184.5 L161.9,189.0 L157.4,193.5 Z" fill="none" stroke="#008000" stroke-width="1.4"/>
<path d="M154.5,187.1 L159.0,182.6 L163.5,187.1 L159.0,191.6 Z" fill="none" stroke="#008000" stroke-width="1.4"/>
<path d="M156.1,185.2 L160.6,180.7 L165.1,185.2 L160.6,189.7 Z" fill="none" stroke="#008000" stroke-width="1.4"/>
<path d="M157.7,183.3 L162.2,178.8 L166.7,183.3 L162.2,187.8 Z" fill="none" stroke="#008000" stroke-width="1.4"/>
<path d="M159.3,181.4 L163.8,176.9 L168.3,181.4 L163.8,185.9 Z" fill="none" stroke="#008000" stroke-width="1.4"/>
<path d="M161.0,179.5 L165.5,175.0 L170.0,179.5 L165.5,184.0 Z" fill="none" stroke="#008000" stroke-width="1.4"/>
<path d="M162.7,177.7 L167.2,173.2 L171.7,177.7 L167.2,182.2 Z" fill="none" stroke="#008000" stroke-width="1.4"/>
<path d="M164.3,175.9 L168.8,171.4 L173.3,175.9 L168.8,180.4 Z" fill="none" stroke="#008000" stroke-width="1.4"/>
<path d="M166.0,174.0 L170.5,169.5 L175.0,174.0 L170.5,178.5 Z" fill="none" stroke="#008000" stroke-width="1.4"/>
<path d="M167.7,172.2 L172.2,167.7 L176.7,172.2 L172.2,176.7 Z" fill="none" stroke="#008000" stroke-width="1.4"/>
<path d="M169.4,170.3 L173.9,165.8 L178.4,170.3 L173.9,174.8 Z" fill="none" stroke="#008000" stroke-width="1.4"/>
<path d="M171.1,168.5 L175.6,164.0 L180.1,168.5 L175.6,173.0 Z" fill="none" stroke="#008000" stroke-width="1.4"/>
<path d="M172.7,166.6 L177.2,162.1 L181.7,166.6 L177.2,171.1 Z" fill="none" stroke="#008000" stroke-width="1.4"/>
<path d="M174.4,164.8 L178.9,160.3 L183.4,164.8 L178.9,169.3 Z" fill="none" stroke="#008000" stroke-width="1.4"/>
<path d="M176.2,163.0 L180.7,158.5 L185.2,163.0 L180.7,167.5 Z" fill="none" stroke="#008000" stroke-width="1.4"/>
<path d="M177.9,161.2 L182.4,156.7 L186.9,161.2 L182.4,165.7 Z" fill="none" stroke="#008000" stroke-width="1.4"/>
<path d="M179.6,159.4 L184.1,154.9 L188.6,159.4 L184.1,163.9 Z" fill="none" stroke="#008000" stroke-width="1.4"/>
<path d="M181.4,157.7 L185.9,153.2 L190.4,157.7 L185.9,162.2 Z" fill="none" stroke="#008000" stroke-width="1.4"/>
<path d="M183.2,156.0 L187.7,151.5 L192.2,156.0 L187.7,160.5 Z" fill="none" stroke="#008000" stroke-width="1.4"/>
<path d="M185.1,154.3 L189.6,149.8 L194.1,154.3 L189.6,158.8 Z" fill="none" stroke="#008000" stroke-width="1.4"/>
<path d="M187.1,152.8 L191.6,148.3 L196.1,152.8 L191.6,157.3 Z" fill="none" stroke="#008000" stroke-width="1.4"/>
<path d="M189.0,151.2 L193.5,146.7 L198.0,151.2 L193.5,155.7 Z" fill="none" stroke="#008000" stroke-width="1.4"/>
<path d="M191.1,149.8 L195.6,145.3 L200.1,149.8 L195.6,154.3 Z" fill="none" stroke="#008000" stroke-width="1.4"/>
<path d="M193.2,148.5 L197.7,144.0 L202.2,148.5 L197.7,153.0 Z" fill="none" stroke="#008000" stroke-width="1.4"/>
<path d="M195.3,147.2 L199.8,142.7 L204.3,147.2 L199.8,151.7 Z" fill="none" stroke="#008000" stroke-width="1.4"/>
<path d="M197.5,146.0 L202.0,141.5 L206.5,146.0 L202.0,150.5 Z" fill="none" stroke="#008000" stroke-width="1.4"/>
<path d="M199.7,144.8 L204.2,140.3 L208.7,144.8 L204.2,149.3 Z" fill="none" stroke="#008000" stroke-width="1.4"/>
<path d="M201.9,143.6 L206.4,139.1 L210.9,143.6 L206.4,148.1 Z" fill="none" stroke="#008000" stroke-width="1.4"/>
<path d="M204.1,142.5 L208.6,138.0 L213.1,142.5 L208.6,147.0 Z" fill="none" stroke="#008000" stroke-width="1.4"/>
<path d="M206.4,141.6 L210.9,137.1 L215.4,141.6 L210.9,146.1 Z" fill="none" stroke="#008000" stroke-width="1.4"/>
<path d="M208.5,140.4 L213.0,135.9 L217.5,140.4 L213.0,144.9 Z" fill="none" stroke="#008000" stroke-width="1.4"/>
<path d="M211.5,140.1 L216.0,135.6 L220.5,140.1 L216.0,144.6 Z" fill="none" stroke="#008000" stroke-width="1.4"/>
<path d="M213.8,139.0 L218.3,134.5 L222.8,139.0 L218.3,143.5 Z" fill="none" stroke="#008000" stroke-width="1.4"/>
<path d="M215.7,137.5 L220.2,133.0 L224.7,137.5 L220.2,142.0 Z" fill="none" stroke="#008000" stroke-width="1.4"/>
<path d="M217.6,136.0 L222.1,131.5 L226.6,136.0 L222.1,140.5 Z" fill="none" stroke="#008000" stroke-width="1.4"/>
<path d="M219.9,134.2 L223.9,130.2 L227.9,134.2 L223.9,138.2 Z" fill="none" stroke="#008000" stroke-width="1.4"/>
<path d="M221.9,132.8 L225.9,128.8 L229.9,132.8 L225.9,136.8 Z" fill="none" stroke="#008000" stroke-width="1.4"/>
<path d="M224.0,131.4 L228.0,127.4 L232.0,131.4 L228.0,135.4 Z" fill="none" stroke="#008000" stroke-width="1.4"/>
<path d="M225.7,129.6 L229.7,125.6 L233.7,129.6 L229.7,133.6 Z" fill="none" stroke="#008000" stroke-width="1.4"/>
<path d="M228.3,128.7 L232.3,124.7 L236.3,128.7 L232.3,132.7 Z" fill="none" stroke="#008000" stroke-width="1.4"/>
<path d="M229.9,126.8 L233.9,122.8 L237.9,126.8 L233.9,130.8 Z" fill="none" stroke="#008000" stroke-width="1.4"/>
<path d="M232.2,125.6 L236.2,121.6 L240.2,125.6 L236.2,129.6 Z" fill="none" stroke="#008000" stroke-width="1.4"/>
<path d="M233.7,123.6 L237.7,119.6 L241.7,123.6 L237.7,127.6 Z" fill="none" stroke="#008000" stroke-width="1.4"/>
<path d="M236.2,122.6 L240.2,118.6 L244.2,122.6 L240.2,126.6 Z" fill="none" stroke="#008000" stroke-width="1.4"/>
<path d="M238.1,121.0 L242.1,117.0 L246.1,121.0 L242.1,125.0 Z" fill="none" stroke="#008000" stroke-width="1.4"/>
<path d="M239.4,118.8 L243.4,114.8 L247.4,118.8 L243.4,122.8 Z" fill="none" stroke="#008000" stroke-width="1.4"/>
<path d="M241.6,117.6 L245.6,113.6 L249.6,117.6 L245.6,121.6 Z" fill="none" stroke="#008000" stroke-width="1.4"/>
<path d="M244.4,116.9 L248.4,112.9 L252.4,116.9 L248.4,120.9 Z" fill="none" stroke="#008000" stroke-width="1.4"/>
<path d="M246.0,115.1 L250.0,111.1 L254.0,115.1 L250.0,119.1 Z" fill="none" stroke="#008000" stroke-width="1.4"/>
<path d="M248.6,114.2 L252.6,110.2 L256.6,114.2 L252.6,118.2 Z" fill="none" stroke="#008000" stroke-width="1.4"/>
<path d="M250.1,112.2 L254.1,108.2 L258.1,112.2 L254.1,116.2 Z" fill="none" stroke="#008000" stroke-width="1.4"/>
<path d="M258.5,110.0 L262.8,105.7 L267.1,110.0 L262.8,114.3 Z" fill="none" stroke="#008000" stroke-width="1.4"/>
<path d="M277.5,90.9 L281.8,86.6 L286.1,90.9 L281.8,95.2 Z" fill="none" stroke="#008000" stroke-width="1.4"/>
<path d="M349.8,49.7 L352.6,46.9 L355.4,49.7 L352.6,52.5 Z" fill="none" stroke="#008000" stroke-width="1.4"/>
<path d="M352.2,47.4 L355.0,44.6 L357.8,47.4 L355.0,50.2 Z" fill="none" stroke="#008000" stroke-width="1.4"/>
<path d="M354.5,45.0 L357.3,42.2 L360.1,45.0 L357.3,47.8 Z" fill="none" stroke="#008000" stroke-width="1.4"/>
<path d="M356.8,42.7 L359.6,39.9 L362.4,42.7 L359.6,45.5 Z" fill="none" stroke="#008000" stroke-width="1.4"/>
<path d="M359.2,40.4 L362.0,37.6 L364.8,40.4 L362.0,43.2 Z" fill="none" stroke="#008000" stroke-width="1.4"/>
<path d="M161.2,206.2 L169.6,206.2 M165.4,202.0 L165.4,210.4" fill="none" stroke="#0000ff" stroke-width="1.4"/>
<path d="M166.8,196.6 L175.2,196.6 M171.0,192.4 L171.0,200.8" fill="none" stroke="#0000ff" stroke-width="1.4"/>
<path d="M171.7,198.1 L180.1,198.1 M175.9,193.9 L175.9,202.3" fill="none" stroke="#0000ff" stroke-width="1.4"/>
<path d="M175.7,187.5 L184.1,187.5 M179.9,183.3 L179.9,191.7" fill="none" stroke="#0000ff" stroke-width="1.4"/>
<path d="M180.5,180.5 L188.9,180.5 M184.7,176.3 L184.7,184.7" fill="none" stroke="#0000ff" stroke-width="1.4"/>
<path d="M185.3,179.7 L193.7,179.7 M189.5,175.5 L189.5,183.9" fill="none" stroke="#0000ff" stroke-width="1.4"/>
<path d="M188.5,174.0 L196.9,174.0 M192.7,169.8 L192.7,178.2" fill="none" stroke="#0000ff" stroke-width="1.4"/>
<path d="M190.1,167.6 L198.5,167.6 M194.3,163.4 L194.3,171.8" fill="none" stroke="#0000ff" stroke-width="1.4"/>
<path d="M194.1,163.6 L202.5,163.6 M198.3,159.4 L198.3,167.8" fill="none" stroke="#0000ff" stroke-width="1.4"/>
<path d="M198.1,157.2 L206.5,157.2 M202.3,153.0 L202.3,161.4" fill="none" stroke="#0000ff" stroke-width="1.4"/>
<path d="M201.3,152.4 L209.7,152.4 M205.5,148.2 L205.5,156.6" fill="none" stroke="#0000ff" stroke-width="1.4"/>
<path d="M204.1,147.0 L212.5,147.0 M208.3,142.8 L208.3,151.2" fill="none" stroke="#0000ff" stroke-width="1.4"/>
<path d="M206.8,141.8 L215.2,141.8 M211.0,137.6 L211.0,146.0" fill="none" stroke="#0000ff" stroke-width="1.4"/>
<path d="M208.6,137.5 L217.0,137.5 M212.8,133.3 L212.8,141.7" fill="none" stroke="#0000ff" stroke-width="1.4"/>
<path d="M210.3,133.5 L218.7,133.5 M214.5,129.3 L214.5,137.7" fill="none" stroke="#0000ff" stroke-width="1.4"/>
<path d="M216.7,127.0 L225.1,127.0 M220.9,122.8 L220.9,131.2" fill="none" stroke="#0000ff" stroke-width="1.4"/>
<path d="M220.3,120.5 L228.7,120.5 M224.5,116.3 L224.5,124.7" fill="none" stroke="#0000ff" stroke-width="1.4"/>
<path d="M228.1,116.0 L236.5,116.0 M232.3,111.8 L232.3,120.2" fill="none" stroke="#0000ff" stroke-width="1.4"/>
<path d="M233.8,117.6 L242.2,117.6 M238.0,113.4 L238.0,121.8" fill="none" stroke="#0000ff" stroke-width="1.4"/>
<path d="M244.3,114.8 L251.1,121.6 M244.3,121.6 L251.1,114.8" fill="none" stroke="#0000ff" stroke-width="1.4"/>
<path d="M263.4,95.3 L270.2,102.1 M263.4,102.1 L270.2,95.3" fill="none" stroke="#0000ff" stroke-width="1.4"/>
</g>
<g clip-path="url(#ct)">
<polyline points="54.0,245.4 90.1,208.7 110.0,188.2 130.0,167.2 142.0,155.4 150.0,148.4 160.0,140.6 170.0,133.5 190.0,119.6 200.0,112.8 215.0,103.6 230.0,94.4 250.0,82.7 270.0,71.8 300.0,54.2 340.0,30.5 373.0,10.8" fill="none" stroke="#000" stroke-width="1.7" stroke-linejoin="round" />
<polyline points="78.5,263.0 86.0,254.8 100.0,239.2 120.0,217.0 147.1,187.1 150.0,184.0 160.0,173.0 170.0,162.8 180.0,153.8 190.0,146.0 210.0,132.2 230.0,119.0 242.5,110.5 255.0,103.2 270.0,94.5 300.0,76.4 340.0,53.2 373.0,34.0" fill="none" stroke="#ff0000" stroke-width="1.7" stroke-linejoin="round" />
<polyline points="90.0,263.0 97.6,254.8 125.0,225.5 144.8,202.0 149.6,198.0 162.0,186.0 175.0,172.5 190.0,158.0 203.5,146.5 220.0,134.0 240.0,120.5 255.0,110.5 270.0,100.6 284.0,92.3 300.0,83.5 340.0,60.4 373.0,41.0" fill="none" stroke="#008000" stroke-width="1.7" stroke-linejoin="round" />
<polyline points="112.0,263.0 119.0,254.7 151.5,220.0 170.0,200.0 189.2,180.0 205.0,164.5 222.0,148.0 240.0,134.0 265.0,118.0 277.0,110.0 300.0,96.0 340.0,73.0 373.0,54.0" fill="none" stroke="#0000ff" stroke-width="1.7" stroke-linejoin="round" />
</g>
<text x="102.70" y="92.40" font-family="Liberation Sans, sans-serif" font-weight="bold" font-size="15.6" fill="#000">12.0 K</text>
<ellipse cx="105.50" cy="104.00" rx="3.1" ry="4.6" fill="none" stroke="#000" stroke-width="1.1"/>
<line x1="105.50" y1="97.50" x2="105.50" y2="112.60" stroke="#000" stroke-width="1.1"/>
<text x="110.00" y="115.00" font-family="Liberation Sans, sans-serif" font-weight="bold" font-size="11" fill="#000">H</text>
<text x="118.90" y="108.80" font-family="Liberation Sans, sans-serif" font-weight="bold" font-size="15.6" fill="#000">=8.0</text>
<text x="179.20" y="49.50" font-family="Liberation Sans, sans-serif" font-weight="bold" font-size="15.6" fill="#ff0000">13.5 K</text>
<ellipse cx="182.00" cy="61.10" rx="3.1" ry="4.6" fill="none" stroke="#ff0000" stroke-width="1.1"/>
<line x1="182.00" y1="54.60" x2="182.00" y2="69.70" stroke="#ff0000" stroke-width="1.1"/>
<text x="186.50" y="72.10" font-family="Liberation Sans, sans-serif" font-weight="bold" font-size="11" fill="#ff0000">H</text>
<text x="195.40" y="65.90" font-family="Liberation Sans, sans-serif" font-weight="bold" font-size="15.6" fill="#ff0000">=1.0</text>
<text x="303.00" y="116.70" font-family="Liberation Sans, sans-serif" font-weight="bold" font-size="15.6" fill="#008000">15.0 K</text>
<ellipse cx="305.80" cy="128.30" rx="3.1" ry="4.6" fill="none" stroke="#008000" stroke-width="1.1"/>
<line x1="305.80" y1="121.80" x2="305.80" y2="136.90" stroke="#008000" stroke-width="1.1"/>
<text x="310.30" y="139.30" font-family="Liberation Sans, sans-serif" font-weight="bold" font-size="11" fill="#008000">H</text>
<text x="319.20" y="133.10" font-family="Liberation Sans, sans-serif" font-weight="bold" font-size="15.6" fill="#008000">=0.51</text>
<text x="259.00" y="198.00" font-family="Liberation Sans, sans-serif" font-weight="bold" font-size="15.6" fill="#0000ff">16.5 K</text>
<ellipse cx="261.80" cy="209.60" rx="3.1" ry="4.6" fill="none" stroke="#0000ff" stroke-width="1.1"/>
<line x1="261.80" y1="203.10" x2="261.80" y2="218.20" stroke="#0000ff" stroke-width="1.1"/>
<text x="266.30" y="220.60" font-family="Liberation Sans, sans-serif" font-weight="bold" font-size="11" fill="#0000ff">H</text>
<text x="275.20" y="214.40" font-family="Liberation Sans, sans-serif" font-weight="bold" font-size="15.6" fill="#0000ff">=0.16</text>
<line x1="144.1" y1="114.5" x2="165" y2="134.4" stroke="#000" stroke-width="1.7"/>
<line x1="211" y1="75" x2="243" y2="109" stroke="#ff0000" stroke-width="1.7"/>
<line x1="296.4" y1="88.5" x2="321.8" y2="97" stroke="#008000" stroke-width="1.7"/>
<line x1="212.1" y1="156.2" x2="252" y2="186" stroke="#0000ff" stroke-width="1.7"/>
<polyline points="89.0,463.8 95.0,457.5 101.4,451.0 106.5,445.5 112.1,439.2 117.5,433.5 122.8,428.5 127.5,424.5 132.4,421.0 136.0,419.8 138.5,418.0 144.2,415.7 148.0,413.0 150.0,410.8 154.9,409.3 159.6,405.8 166.0,402.0 174.0,397.0 178.0,395.5 182.5,392.8 190.0,387.0 198.1,381.3 204.0,377.0 210.2,372.9 217.0,367.5 224.6,362.0 235.6,362.0" fill="none" stroke="#000" stroke-width="1.8" stroke-linejoin="round" />
<polyline points="149.6,444.6 155.0,438.5 160.0,433.0 165.0,427.5 170.0,422.0 175.0,417.2 180.0,413.0 184.0,409.0 188.0,405.0 192.0,401.5 195.0,400.0 198.0,399.0 201.7,395.7 205.0,394.8 207.7,392.8 212.0,389.5 216.2,387.3 222.0,384.2 227.0,382.6 230.6,381.6 234.2,378.6 237.4,376.5 239.1,379.1 240.8,374.8 243.0,371.5 246.0,367.9 251.0,364.0 256.2,360.2 261.0,356.0 266.5,350.8 270.0,348.5 275.0,345.7" fill="none" stroke="#ff0000" stroke-width="1.8" stroke-linejoin="round" />
<polyline points="150.3,451.0 155.0,445.5 160.0,439.6 165.0,433.8 170.0,428.0 175.0,423.0 180.0,418.0 185.0,413.0 188.5,408.5 192.0,405.5 198.1,401.0 203.0,399.0 207.7,397.0 213.0,393.7 219.8,389.7 225.0,386.5 229.4,383.7 233.0,380.5 237.4,376.5 241.0,374.0 244.2,372.2 251.1,367.9 256.0,364.5 260.5,361.1 263.9,365.0 267.3,363.7 272.0,357.0 276.0,351.5 281.0,344.5" fill="none" stroke="#008000" stroke-width="1.8" stroke-linejoin="round" />
<polyline points="167.0,463.0 168.3,458.0 170.0,452.0 172.5,451.0 175.0,452.4 177.0,449.0 178.5,444.5 180.0,441.0 183.0,438.0 186.0,437.5 188.0,435.5 190.0,433.0 191.5,429.0 193.0,426.0 195.0,421.0 197.0,416.2 198.5,414.5 199.5,411.0 201.7,409.0 203.0,406.5 206.5,404.1 209.0,398.5 212.6,392.1 215.0,387.5 217.4,383.7 220.0,380.0 222.2,377.7 224.5,375.0 227.1,372.2 229.0,372.6 232.6,370.2 234.8,376.5 238.3,370.5 240.5,373.1 242.5,379.9 245.1,374.8 249.4,371.4 256.2,363.7 263.1,356.0 267.3,353.1" fill="none" stroke="#0000ff" stroke-width="1.8" stroke-linejoin="round" />
<path d="M178.7,413.9 L178.7,438.0 M174.39999999999998,413.9 L183.0,413.9 M174.39999999999998,438.0 L183.0,438.0" fill="none" stroke="#000" stroke-width="1.4"/>
<path d="M182.5,415.8 L182.5,438 M178.2,415.8 L188.3,415.8 M179,432.5 L186.5,432.5" fill="none" stroke="#000" stroke-width="1.2"/>
<path d="M207.9,405.5 L207.9,420.7 M203.6,405.5 L212.20000000000002,405.5 M203.6,420.7 L212.20000000000002,420.7" fill="none" stroke="#000" stroke-width="1.4"/>
<path d="M222.6,391.5 L222.6,408.5 M217.79999999999998,391.5 L227.4,391.5 M217.79999999999998,408.5 L227.4,408.5" fill="none" stroke="#000" stroke-width="1.4"/>
<path d="M164.60,450.60 L174.60,450.60 L169.60,441.80 Z" fill="#000"/>
<path d="M172.60,425.30 L182.60,425.30 L177.60,416.50 Z" fill="#000"/>
<path d="M178.50,425.30 L188.50,425.30 L183.50,416.50 Z" fill="#000"/>
<path d="M181.20,436.90 L191.20,436.90 L186.20,428.10 Z" fill="#000"/>
<path d="M201.40,414.70 L211.40,414.70 L206.40,405.90 Z" fill="#000"/>
<path d="M204.50,414.70 L214.50,414.70 L209.50,405.90 Z" fill="#000"/>
<path d="M217.40,401.70 L227.40,401.70 L222.40,392.90 Z" fill="#000"/>
<path d="M186.5,436 L186.5,444 M183,440.3 L186.5,444 L190,440.3" fill="none" stroke="#000" stroke-width="1.2"/>
<text x="152.0" y="463.2" font-family="Liberation Sans, sans-serif" font-weight="bold" font-size="11.8" fill="#000">32</text>
<text x="162.2" y="423.2" font-family="Liberation Sans, sans-serif" font-weight="bold" font-size="11.8" fill="#000">11</text>
<text x="187.6" y="419" font-family="Liberation Sans, sans-serif" font-weight="bold" font-size="11.8" fill="#000">5</text>
<text x="193.6" y="445.8" font-family="Liberation Sans, sans-serif" font-weight="bold" font-size="11.8" fill="#000">28</text>
<text x="213.7" y="421.6" font-family="Liberation Sans, sans-serif" font-weight="bold" font-size="11.8" fill="#000">4</text>
<text x="228.9" y="407.4" font-family="Liberation Sans, sans-serif" font-weight="bold" font-size="11.8" fill="#000">2</text>
<path d="M197.5,331.5 L103.5,415.7 M106.7,406 L103.5,415.7 L114.2,412.5" fill="none" stroke="#000" stroke-width="1.6" stroke-linejoin="miter"/>
<path d="M322.5,363.5 L229.4,447.9 M231.5,438 L229.4,447.9 L240.7,446" fill="none" stroke="#000" stroke-width="1.6" stroke-linejoin="miter"/>
<text x="75.4" y="364.2" font-family="Liberation Sans, sans-serif" font-weight="bold" font-size="15.9" fill="#000">n(H)/n(CO)</text>
<text x="278.6" y="425.6" font-family="Liberation Sans, sans-serif" font-weight="bold" font-size="15.6" fill="#000">time</text>
</svg>
</body></html>
